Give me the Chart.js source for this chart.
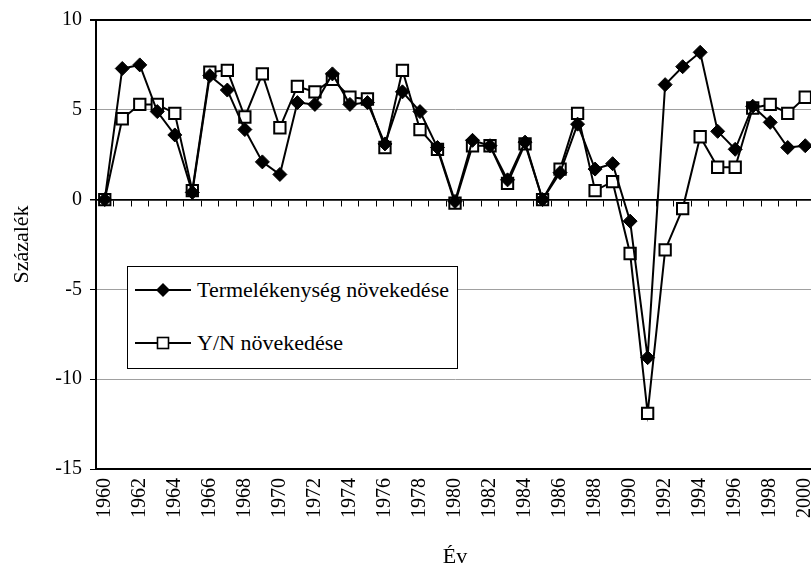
<!DOCTYPE html>
<html>
<head>
<meta charset="utf-8">
<script src="https://cdn.jsdelivr.net/npm/chart.js@4.4.1/dist/chart.umd.min.js"></script>
<style>
html,body{margin:0;padding:0;background:#fff;overflow:hidden;}
#wrap{position:relative;width:811px;height:570px;overflow:hidden;background:#fff;}
#c{position:absolute;left:0;top:0;width:840px;height:570px;}
#legend{position:absolute;left:127px;top:266px;height:103px;border:1px solid #000;background:#fff;
  font-family:'Liberation Serif','Times New Roman',Times,'DejaVu Serif',serif;font-size:22px;color:#000;box-sizing:border-box;padding-right:8px;}
#legend .row{position:relative;height:28px;line-height:28px;white-space:nowrap;padding-left:69px;}
#legend .row svg{position:absolute;left:7px;top:7px;}
</style>
</head>
<body>
<div id="wrap">
<canvas id="c" width="840" height="570"></canvas>
<div id="legend">
  <div class="row" style="margin-top:9px;"><svg width="56" height="14" viewBox="0 0 56 14"><line x1="0" y1="7" x2="56" y2="7" stroke="#000" stroke-width="2"/><polygon points="28,0 35,7 28,14 21,7" fill="#000"/></svg><span id="l1"></span></div>
  <div class="row" style="margin-top:25px;"><svg width="56" height="14" viewBox="0 0 56 14"><line x1="0" y1="7" x2="56" y2="7" stroke="#000" stroke-width="2"/><rect x="22.5" y="1.5" width="11" height="11" fill="#fff" stroke="#000" stroke-width="1.6"/></svg><span id="l2"></span></div>
</div>
</div>
<script>
const years = ["1960","1961","1962","1963","1964","1965","1966","1967","1968","1969",
               "1970","1971","1972","1973","1974","1975","1976","1977","1978","1979",
               "1980","1981","1982","1983","1984","1985","1986","1987","1988","1989",
               "1990","1991","1992","1993","1994","1995","1996","1997","1998","1999","2000"];
const productivityGrowth = [0, 7.3, 7.5, 4.9, 3.6, 0.4, 6.9, 6.1, 3.9, 2.1,
                            1.4, 5.4, 5.3, 7.0, 5.3, 5.4, 3.1, 6.0, 4.9, 2.9,
                            -0.1, 3.3, 3.0, 1.1, 3.2, 0.0, 1.5, 4.2, 1.7, 2.0,
                            -1.2, -8.8, 6.4, 7.4, 8.2, 3.8, 2.8, 5.2, 4.3, 2.9, 3.0];
const ynGrowth = [0, 4.5, 5.3, 5.3, 4.8, 0.5, 7.1, 7.2, 4.6, 7.0,
                  4.0, 6.3, 6.0, 6.7, 5.7, 5.6, 2.9, 7.2, 3.9, 2.8,
                  -0.2, 3.0, 3.0, 0.9, 3.1, 0.0, 1.7, 4.8, 0.5, 1.0,
                  -3.0, -11.9, -2.8, -0.5, 3.5, 1.8, 1.8, 5.1, 5.3, 4.8, 5.7];
const seriesNames = ["Termelékenység növekedése", "Y/N növekedése"];
const yTicks = [-15, -10, -5, 0, 5, 10];
const yTitle = "Százalék";
const xTitle = "Év";

document.getElementById('l1').textContent = seriesNames[0];
document.getElementById('l2').textContent = seriesNames[1];

const FAM = "'Liberation Serif', 'Times New Roman', Times, 'DejaVu Serif', serif";

new Chart(document.getElementById('c'), {
  type: 'line',
  data: {
    labels: years,
    datasets: [
      { label: seriesNames[0], data: productivityGrowth, borderColor: '#000', borderWidth: 2,
        pointStyle: 'rectRot', pointRadius: 7, pointBackgroundColor: '#000', pointBorderColor: '#000',
        pointBorderWidth: 1, tension: 0, fill: false, xAxisID: 'x', yAxisID: 'y' },
      { label: seriesNames[1], data: ynGrowth, borderColor: '#000', borderWidth: 2,
        pointStyle: 'rect', pointRadius: 8, pointBackgroundColor: '#fff', pointBorderColor: '#000',
        pointBorderWidth: 2, tension: 0, fill: false, xAxisID: 'x', yAxisID: 'y' }
    ]
  },
  options: {
    responsive: false,
    animation: false,
    layout: { padding: { left: 0, top: 15, right: 26, bottom: 0 } },
    plugins: { legend: { display: false }, tooltip: { enabled: false } },
    scales: {
      x: {
        type: 'category', position: 'bottom', offset: true,
        grid: { display: false, drawTicks: false },
        border: { display: true, color: '#000', width: 2 },
        ticks: {
          autoSkip: false, minRotation: 90, maxRotation: 90, padding: 9, color: '#000',
          font: { family: FAM, size: 20 },
          callback: function (v, i) { return i % 2 === 0 ? this.getLabelForValue(v) : ''; }
        },
        title: { display: true, text: xTitle, color: '#000', font: { family: FAM, size: 22 }, padding: { top: 0, bottom: 0 } },
        afterFit: s => { s.height = 101; }
      },
      x2: {
        type: 'category', position: { y: 0 }, offset: true,
        grid: { display: true, offset: true, drawOnChartArea: false, drawTicks: true, tickLength: 6, tickColor: '#000', tickWidth: 1 },
        border: { display: true, color: '#000', width: 1.5 },
        ticks: { display: false, autoSkip: false }
      },
      y: {
        min: -15, max: 10,
        afterBuildTicks: s => { s.ticks = yTicks.map(v => ({ value: v })); },
        ticks: { color: '#000', padding: 8, font: { family: FAM, size: 20 } },
        grid: {
          color: c => (c.tick && (c.tick.value === 10 || c.tick.value === -15 || c.tick.value === 0)) ? '#000' : '#a0a0a0',
          lineWidth: c => (c.tick && c.tick.value === 10) ? 2 : (c.tick && c.tick.value === 0 ? 1.5 : 1),
          tickColor: '#000', tickLength: 6, drawTicks: true
        },
        border: { display: true, color: '#000', width: 2 },
        title: { display: true, text: yTitle, color: '#000', font: { family: FAM, size: 22 }, padding: { top: 9, bottom: 0 } },
        afterFit: s => { s.width = 96; }
      }
    }
  }
});
</script>
</body>
</html>
